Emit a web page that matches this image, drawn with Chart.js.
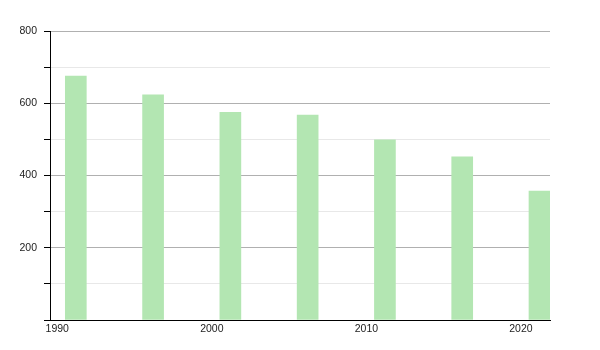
<!DOCTYPE html>
<html>
<head>
<meta charset="utf-8">
<script src="https://cdn.jsdelivr.net/npm/chart.js@4/dist/chart.umd.min.js"></script>
<style>
  html, body { margin: 0; padding: 0; background: #fff; }
  #wrap { width: 600px; height: 350px; }
</style>
</head>
<body>
<div id="wrap"><canvas id="chart"></canvas></div>
<script>
// ── Data ──────────────────────────────────────────────────────────────────
const years  = [1991.2, 1996.2, 2001.2, 2006.2, 2011.2, 2016.2, 2021.2];
const values = [675, 623, 575, 567, 499, 452, 357];

const xMin = 1989.53, xMax = 2021.88;
const yMin = 0, yMax = 800;

const barColor   = '#b3e6b2';
const majorGrid  = '#b0b0b0';
const minorGrid  = '#e8e8e8';
const tickFont   = { family: 'Liberation Sans', size: 10.5 };

// ── Chart ─────────────────────────────────────────────────────────────────
new Chart(document.getElementById('chart'), {
  type: 'bar',
  data: {
    datasets: [{
      data: years.map((x, i) => ({ x, y: values[i] })),
      backgroundColor: barColor, borderWidth: 0, barThickness: 21
    }]
  },
  options: {
    responsive: true, maintainAspectRatio: false, animation: false,
    layout: { padding: { top: 31, right: 50, left: 0, bottom: 0 } },
    plugins: { legend: { display: false }, tooltip: { enabled: false } },
    scales: {
      x: { type: 'linear', min: xMin, max: xMax, offset: false,
           grid: { display: false, drawTicks: false },
           border: { display: true, color: '#000', width: 1 },
           ticks: { stepSize: 10, includeBounds: false, padding: 3, color: '#222', font: tickFont,
                    callback: v => String(v) },
           afterFit: s => { s.height = 30; } },
      y: { min: yMin, max: yMax,
           grid: { color: c => c.tick && c.tick.value % 200 === 0 ? majorGrid : minorGrid,
                   tickColor: '#000', tickLength: 6, lineWidth: 1 },
           border: { display: true, color: '#000', width: 1 },
           ticks: { stepSize: 100, padding: 7, color: '#222', font: tickFont,
                    callback: v => (v % 200 === 0 && v > 0) ? String(v) : '' },
           afterFit: s => { s.width = 50; } }
    }
  }
});
</script>
</body>
</html>
